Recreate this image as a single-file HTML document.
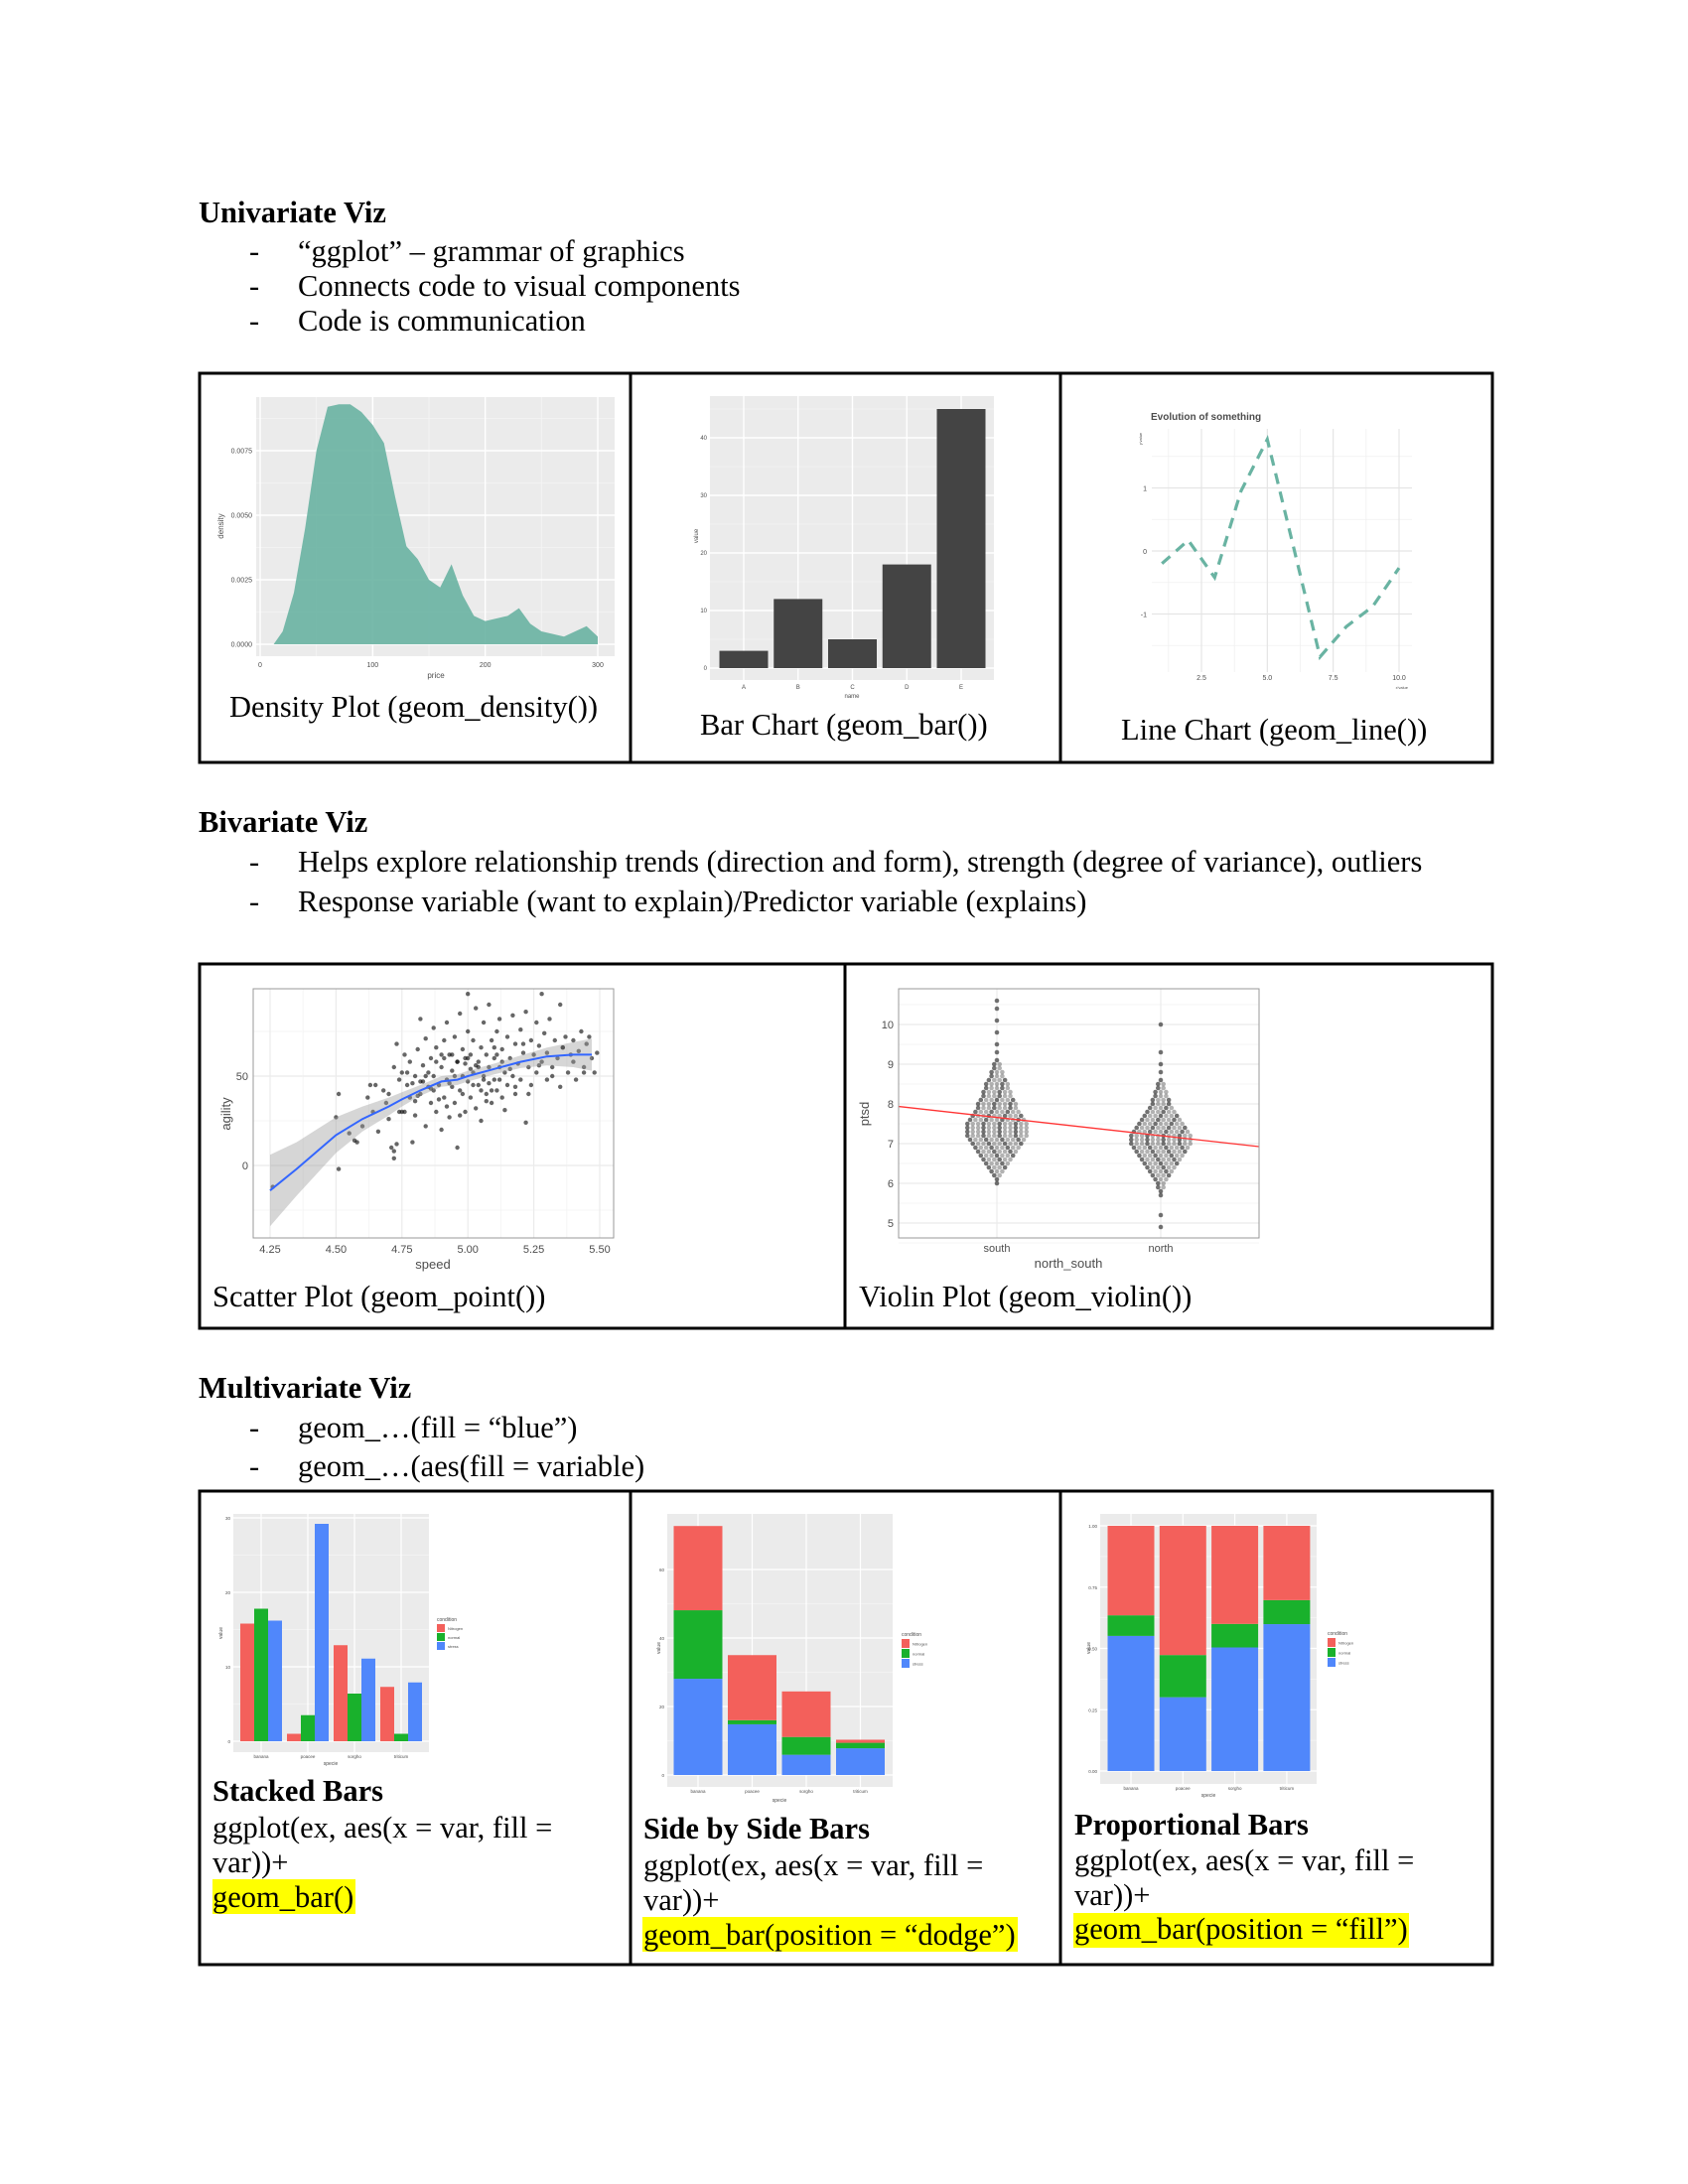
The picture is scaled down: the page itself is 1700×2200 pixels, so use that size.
<!DOCTYPE html>
<html><head><meta charset="utf-8"><title>ggplot notes</title>
<style>
html,body{margin:0;padding:0;background:#fff;}
svg{display:block;}
.t{font-family:"Liberation Serif","Times New Roman",serif;font-size:30.5px;fill:#000;}
.b{font-weight:bold;}
.s{font-family:"Liberation Sans",Arial,sans-serif;fill:#4d4d4d;}
</style></head>
<body>
<svg id="page" xmlns="http://www.w3.org/2000/svg" width="1700" height="2200" viewBox="0 0 1700 2200">
<rect x="0" y="0" width="1700" height="2200" fill="#fff"/>
<!-- Univariate -->
<text class="t b" x="200" y="224">Univariate Viz</text>
<text class="t" x="251" y="263">-</text>
<text class="t" x="300" y="263">“ggplot” – grammar of graphics</text>
<text class="t" x="251" y="298">-</text>
<text class="t" x="300" y="298">Connects code to visual components</text>
<text class="t" x="251" y="333">-</text>
<text class="t" x="300" y="333">Code is communication</text>
<g fill="none" stroke="#000" stroke-width="3">
<rect x="201" y="376" width="1302" height="392"/>
<line x1="635" y1="376" x2="635" y2="768"/>
<line x1="1068" y1="376" x2="1068" y2="768"/>
</g>
<text class="t" x="231" y="722">Density Plot (geom_density())</text>
<text class="t" x="705" y="740">Bar Chart (geom_bar())</text>
<text class="t" x="1129" y="745">Line Chart (geom_line())</text>
<!-- Bivariate -->
<text class="t b" x="200" y="838">Bivariate Viz</text>
<text class="t" x="251" y="878">-</text>
<text class="t" x="300" y="878">Helps explore relationship trends (direction and form), strength (degree of variance), outliers</text>
<text class="t" x="251" y="918">-</text>
<text class="t" x="300" y="918">Response variable (want to explain)/Predictor variable (explains)</text>
<g fill="none" stroke="#000" stroke-width="3">
<rect x="201" y="971" width="1302" height="367"/>
<line x1="851" y1="971" x2="851" y2="1338"/>
</g>
<text class="t" x="214" y="1316">Scatter Plot (geom_point())</text>
<text class="t" x="865" y="1316">Violin Plot (geom_violin())</text>
<!-- Multivariate -->
<text class="t b" x="200" y="1408">Multivariate Viz</text>
<text class="t" x="251" y="1448">-</text>
<text class="t" x="300" y="1448">geom_…(fill = “blue”)</text>
<text class="t" x="251" y="1487">-</text>
<text class="t" x="300" y="1487">geom_…(aes(fill = variable)</text>
<g fill="none" stroke="#000" stroke-width="3">
<rect x="201" y="1502" width="1302" height="477"/>
<line x1="635" y1="1502" x2="635" y2="1979"/>
<line x1="1068" y1="1502" x2="1068" y2="1979"/>
</g>
<rect x="214" y="1893" width="144" height="35" fill="#ffff00"/>
<rect x="647" y="1931" width="378" height="35" fill="#ffff00"/>
<rect x="1081" y="1927" width="338" height="35" fill="#ffff00"/>
<text class="t b" x="214" y="1814">Stacked Bars</text>
<text class="t" x="214" y="1851">ggplot(ex, aes(x = var, fill =</text>
<text class="t" x="214" y="1886">var))+</text>
<text class="t" x="214" y="1921">geom_bar()</text>
<text class="t b" x="648" y="1852">Side by Side Bars</text>
<text class="t" x="648" y="1889">ggplot(ex, aes(x = var, fill =</text>
<text class="t" x="648" y="1924">var))+</text>
<text class="t" x="648" y="1959">geom_bar(position = “dodge”)</text>
<text class="t b" x="1082" y="1848">Proportional Bars</text>
<text class="t" x="1082" y="1884">ggplot(ex, aes(x = var, fill =</text>
<text class="t" x="1082" y="1919">var))+</text>
<text class="t" x="1082" y="1953">geom_bar(position = “fill”)</text>
<g id="charts"></g>
</svg>
<script>
// ---------- DATA ----------
const densityPrice = [12,20,30,40,50,60,70,80,90,100,110,120,130,140,150,160,170,180,190,200,210,220,230,240,250,260,270,280,290,300];
const densityValue = [0,0.0005,0.002,0.0045,0.0075,0.0092,0.0093,0.0093,0.009,0.0085,0.0078,0.0057,0.0038,0.0033,0.0025,0.0022,0.0031,0.0019,0.0011,0.0009,0.001,0.0011,0.0014,0.0008,0.0005,0.0004,0.0003,0.0005,0.0007,0.0003];
const densityXTicks = [0,100,200,300];
const densityYTicks = [0,0.0025,0.005,0.0075];
const densityYLabels = ["0.0000","0.0025","0.0050","0.0075"];

const barNames = ["A","B","C","D","E"];
const barValues = [3,12,5,18,45];
const barYTicks = [0,10,20,30,40];

const lineX = [1,2,3,4,5,6,7,8,9,10];
const lineY = [-0.2,0.17,-0.42,0.95,1.77,0.05,-1.68,-1.2,-0.88,-0.27];
const lineXTicks = [2.5,5,7.5,10];
const lineXLabels = ["2.5","5.0","7.5","10.0"];
const lineYTicks = [-1,0,1];

const scatterSpeed = [4.51,4.51,4.50,4.55,4.57,4.58,4.60,4.62,4.63,4.64,4.65,4.66,4.68,4.69,4.70,4.71,4.72,4.72,4.73,4.72,4.73,4.74,4.75,4.75,4.76,4.77,4.78,4.78,4.79,4.80,4.80,4.81,4.82,4.82,4.83,4.84,4.84,4.85,4.86,4.86,4.87,4.87,4.88,4.88,4.89,4.90,4.90,4.91,4.91,4.92,4.92,4.93,4.93,4.94,4.94,4.95,4.95,4.96,4.96,4.97,4.97,4.98,4.98,4.99,4.99,5.00,5.00,5.00,5.01,5.01,5.02,5.02,5.03,5.03,5.04,5.04,5.05,5.05,5.06,5.06,5.07,5.07,5.08,5.08,5.09,5.09,5.10,5.10,5.11,5.11,5.12,5.12,5.13,5.13,5.14,5.15,5.15,5.16,5.17,5.17,5.18,5.18,5.19,5.20,5.20,5.21,5.22,5.22,5.23,5.24,5.24,5.25,5.26,5.26,5.27,5.28,5.28,5.29,5.30,5.30,5.31,5.32,5.33,5.34,5.35,5.35,5.36,5.37,5.38,5.39,5.40,5.41,5.42,5.43,5.44,5.45,5.46,5.47,5.48,5.49,4.88,4.93,4.98,5.03,5.08,5.13,4.85,4.90,4.95,5.00,5.05,5.10,4.80,4.77,4.83,5.16,5.21,4.26,4.92,4.97,5.02,5.07,5.12,4.87,4.82,4.76,5.18,5.23,5.27,5.32,4.94,4.99,5.04,5.09,5.14,4.89,4.84,4.79,4.74,4.70,5.36,5.40,5.44,4.96,5.01,5.06,5.11,4.91,4.86,4.81];
const scatterAgility = [-2,40,27,18,14,13,22,38,45,30,45,19,42,35,40,10,8,4,12,55,68,48,30,52,62,45,38,58,13,50,28,65,40,82,56,22,71,44,35,60,50,77,30,66,45,55,20,70,38,48,80,27,62,44,53,35,72,58,10,42,85,50,65,30,57,47,96,75,38,62,52,70,32,88,45,58,66,25,50,80,40,62,55,90,35,70,48,60,75,42,55,82,65,38,52,72,45,60,84,50,68,40,57,76,48,63,86,24,55,70,45,62,80,52,67,96,58,74,48,63,82,55,70,60,90,44,66,72,52,62,70,48,64,75,55,68,72,60,52,63,58,46,40,56,46,58,52,62,50,60,42,66,36,52,47,54,68,-12,33,28,45,36,48,42,47,30,44,40,56,50,62,60,55,42,31,37,50,46,30,26,66,58,52,58,54,48,62,60,43,39,50];
const smoothSpeed = [4.25,4.35,4.5,4.6,4.7,4.75,4.82,4.9,4.96,5.0,5.1,5.2,5.3,5.4,5.47];
const smoothFit = [-14,-2,17,26,33,37,42,47,48,50,54,58,61,62,62];
const smoothSE = [20,15,10,7,5,4,3,3,3,3,3,3.5,5,7,9];
const scatterXTicks = [4.25,4.5,4.75,5,5.25,5.5];
const scatterXLabels = ["4.25","4.50","4.75","5.00","5.25","5.50"];
const scatterYTicks = [0,50];

const violinGroups = ["south","north"];
const southStart = 6.0;
const southCounts = [1,1,2,3,4,5,6,7,8,9,10,11,12,12,12,12,11,10,9,8,8,7,6,6,5,5,4,3,3,2,2,1,0,1,0,1,0,0,1,0,0,1,0,0,1,0,1];
const northStart = 4.9;
const northCounts = [1,0,0,1,0,0,0,0,1,1,2,2,3,4,5,6,7,8,9,10,11,12,12,12,11,10,9,8,7,6,5,4,4,3,3,2,2,1,0,1,0,1,0,0,1,0,0,0,0,0,0,1];
const ptsdFitGroupPos = [1,2];
const ptsdFit = [7.66,7.2];
const violinYTicks = [5,6,7,8,9,10];

const species = ["banana","poacee","sorgho","triticum"];
const conditions = ["Nitrogen","normal","stress"];
const condColors = ["#F3605B","#19B12C","#5087FB"];
const groupNitrogen = [15.8,1,12.9,7.3];
const groupNormal = [17.8,3.5,6.4,1];
const groupStress = [16.2,29.2,11.1,7.9];
const groupYTicks = [0,10,20,30];
const stackNitrogen = [24.6,19,13.3,0.9];
const stackNormal = [20,1.2,5.2,1.6];
const stackStress = [28.1,14.8,5.9,7.8];
const stackYTicks = [0,20,40,60];
const fillNitrogen = [0.365,0.527,0.4,0.303];
const fillNormal = [0.084,0.172,0.096,0.098];
const fillStress = [0.551,0.301,0.504,0.599];
const fillYTicks = [0,0.25,0.5,0.75,1];
const fillYLabels = ["0.00","0.25","0.50","0.75","1.00"];

// ---------- HELPERS ----------
const NS = "http://www.w3.org/2000/svg";
const root = document.getElementById("charts");
function mk(tag, attrs, parent){
  const e = document.createElementNS(NS, tag);
  for (const k in attrs) e.setAttribute(k, attrs[k]);
  (parent || root).appendChild(e);
  return e;
}
function lin(d0,d1,r0,r1){ return v => r0 + (v-d0)/(d1-d0)*(r1-r0); }
function label(parent, x, y, txt, size, anchor, rot, color){
  const t = mk("text", {x:x, y:y, "font-size":size, "text-anchor":anchor||"middle", "class":"s"}, parent);
  if (rot) t.setAttribute("transform", "rotate(-90 "+x+" "+y+")");
  if (color) t.setAttribute("fill", color);
  t.textContent = txt;
  return t;
}
function grid(parent, x1,y1,x2,y2,color,w){
  return mk("line",{x1:x1,y1:y1,x2:x2,y2:y2,stroke:color,"stroke-width":w},parent);
}

// ---------- DENSITY ----------
(function(){
  const g = mk("g",{});
  
  
  const L=258,R=619,T=400,B=661;
  const x = lin(0,300,262,602), y = lin(0,0.0025,649,584);
  const p = mk("rect",{x:L,y:T,width:R-L,height:B-T,fill:"#EBEBEB"},g);
  
  
  for (let i=0;i<densityXTicks.length-1;i++){ const m=(densityXTicks[i]+densityXTicks[i+1])/2; grid(g,x(m),T,x(m),B,"#F5F5F5",0.8); }
  for (let i=0;i<densityYTicks.length;i++){ const m=densityYTicks[i]+0.00125; grid(g,L,y(m),R,y(m),"#F5F5F5",0.8); }
  densityXTicks.forEach(v=>{ grid(g,x(v),T,x(v),B,"#fff",1.4); label(g,x(v),672,String(v),7,"middle"); });
  densityYTicks.forEach((v,i)=>{ grid(g,L,y(v),R,y(v),"#fff",1.4); label(g,L-4,y(v)+2.5,densityYLabels[i],7,"end"); });
  let d = "M"+x(densityPrice[0])+","+y(0);
  densityPrice.forEach((v,i)=>{ d += " L"+x(v).toFixed(1)+","+y(densityValue[i]).toFixed(1); });
  d += " L"+x(densityPrice[densityPrice.length-1])+","+y(0)+" Z";
  const a = mk("path",{d:d,fill:"#69b3a2","fill-opacity":0.9,stroke:"none","stroke-linejoin":"round"},g);
  
  
  label(g,439,683,"price",8,"middle",false,"#222");
  label(g,225,530,"density",8,"middle",true,"#222");
})();

// ---------- BAR ----------
(function(){
  const g = mk("g",{});
  
  
  const L=715,R=1001,T=399,B=685;
  const y = lin(0,40,673,441);
  const xc = i => 749 + i*54.75;
  mk("rect",{x:L,y:T,width:R-L,height:B-T,fill:"#EBEBEB"},g);
  barYTicks.forEach(v=>{ grid(g,L,y(v+5),R,y(v+5),"#F5F5F5",0.8); grid(g,L,y(v),R,y(v),"#fff",1.4); label(g,L-3,y(v)+2,String(v),6,"end"); });
  barNames.forEach((n,i)=>{ grid(g,xc(i),T,xc(i),B,"#fff",1.4); label(g,xc(i),694,n,6,"middle"); });
  barValues.forEach((v,i)=>{
    const r = mk("rect",{x:xc(i)-24.5,y:y(v),width:49,height:y(0)-y(v),fill:"#444444"},g);
    
    
  });
  label(g,858,703,"name",6,"middle",false,"#222");
  label(g,703,540,"value",6,"middle",true,"#222");
})();

// ---------- LINE ----------
(function(){
  const g = mk("g",{});
  
  
  const L=1160,R=1422,T=432,B=677;
  const x = lin(1,10,1170.2,1409), y = lin(0,1,555,491.5);
  [-1.5,-0.5,0.5,1.5].forEach(v=>grid(g,L,y(v),R,y(v),"#F0F0F0",0.8));
  [1.25,3.75,6.25,8.75].forEach(v=>grid(g,x(v),T,x(v),B,"#F0F0F0",0.8));
  lineYTicks.forEach(v=>{ grid(g,L,y(v),R,y(v),"#E5E5E5",1.2); label(g,1155,y(v)+3,String(v),7,"end"); });
  lineXTicks.forEach((v,i)=>{ grid(g,x(v),T,x(v),B,"#E5E5E5",1.2); label(g,x(v),685,lineXLabels[i],7,"middle"); });
  const pts = lineX.map((v,i)=>x(v).toFixed(1)+","+y(lineY[i]).toFixed(1)).join(" ");
  const pl = mk("polyline",{points:pts,fill:"none",stroke:"#69b3a2","stroke-width":3.2,"stroke-dasharray":"11,8"},g);
  
  
  const t = mk("text",{x:1159,y:423,"font-size":10,"font-weight":"bold","class":"s",fill:"#222"},g);
  
  
  t.textContent = "Evolution of something";
  label(g,1418,694,"x'value",4,"end",false,"#444");
  label(g,1150,442,"y'value",4,"middle",true,"#444");
})();

// ---------- SCATTER ----------
(function(){
  const g = mk("g",{});
  
  
  const L=255,R=618,T=996,B=1247;
  const x = lin(4.25,5.5,272,604), y = lin(0,50,1174,1084);
  mk("rect",{x:L,y:T,width:R-L,height:B-T,fill:"#fff"},g);
  [-25,25,75].forEach(v=>grid(g,L,y(v),R,y(v),"#F3F3F3",0.8));
  [4.375,4.625,4.875,5.125,5.375].forEach(v=>grid(g,x(v),T,x(v),B,"#F3F3F3",0.8));
  scatterYTicks.forEach(v=>{ grid(g,L,y(v),R,y(v),"#EBEBEB",1.2); label(g,L-5,y(v)+4,String(v),11,"end"); });
  scatterXTicks.forEach((v,i)=>{ grid(g,x(v),T,x(v),B,"#EBEBEB",1.2); label(g,x(v),1262,scatterXLabels[i],11,"middle"); });
  scatterSpeed.forEach((v,i)=>{
    const c = mk("circle",{cx:x(v).toFixed(1),cy:y(scatterAgility[i]).toFixed(1),r:2.2,fill:"#000","fill-opacity":0.6},g);
    
    
  });
  let up="", dn="";
  smoothSpeed.forEach((v,i)=>{ up += (i?" L":"M")+x(v).toFixed(1)+","+y(smoothFit[i]+smoothSE[i]).toFixed(1); });
  for (let i=smoothSpeed.length-1;i>=0;i--) dn += " L"+x(smoothSpeed[i]).toFixed(1)+","+y(smoothFit[i]-smoothSE[i]).toFixed(1);
  const band = mk("path",{d:up+dn+" Z",fill:"#999","fill-opacity":0.4},g);
  
  
  const sm = mk("polyline",{points:smoothSpeed.map((v,i)=>x(v).toFixed(1)+","+y(smoothFit[i]).toFixed(1)).join(" "),fill:"none",stroke:"#3366FF","stroke-width":2},g);
  
  
  mk("rect",{x:L,y:T,width:R-L,height:B-T,fill:"none",stroke:"#999","stroke-width":1},g);
  label(g,436,1278,"speed",13,"middle",false,"#111");
  label(g,232,1122,"agility",13,"middle",true,"#111");
})();

// ---------- VIOLIN / BEESWARM ----------
(function(){
  const g = mk("g",{});
  
  
  const L=905,R=1268,T=996,B=1247;
  const y = lin(10,5,1032,1232);
  const x = lin(1,2,1004,1169);
  mk("rect",{x:L,y:T,width:R-L,height:B-T,fill:"#fff"},g);
  for (let v=4.5; v<=10.5; v+=1) grid(g,L,y(v),R,y(v),"#F3F3F3",0.8);
  violinYTicks.forEach(v=>{ grid(g,L,y(v),R,y(v),"#EBEBEB",1.2); label(g,L-5,y(v)+4,String(v),11,"end"); });
  violinGroups.forEach((n,i)=>{ grid(g,x(i+1),T,x(i+1),B,"#EBEBEB",1.2); label(g,x(i+1),1261,n,11,"middle"); });
  function swarm(start, counts, pos){
    counts.forEach((c,k)=>{
      const v = start + k*0.1;
      for (let j=0;j<c;j++){
        const off = (j - (c-1)/2) * 5.4;
        const dot = mk("circle",{cx:(x(pos)+off).toFixed(1),cy:y(v).toFixed(1),r:2.3,fill:"#000","fill-opacity":(j%3===0?0.55:0.3)},g);
        
        
      }
    });
  }
  swarm(southStart, southCounts, 1);
  swarm(northStart, northCounts, 2);
  const slope = (ptsdFit[1]-ptsdFit[0])/(ptsdFitGroupPos[1]-ptsdFitGroupPos[0]);
  const pL = 1 + (L-x(1))/(x(2)-x(1)), pR = 1 + (R-x(1))/(x(2)-x(1));
  const fit = p => ptsdFit[0] + (p-ptsdFitGroupPos[0])*slope;
  const ln = mk("line",{x1:L,y1:y(fit(pL)),x2:R,y2:y(fit(pR)),stroke:"#FF3333","stroke-width":1.3},g);
  
  
  mk("rect",{x:L,y:T,width:R-L,height:B-T,fill:"none",stroke:"#999","stroke-width":1},g);
  label(g,1076,1277,"north_south",13,"middle",false,"#111");
  label(g,875,1122,"ptsd",13,"middle",true,"#111");
})();

// ---------- MULTIVARIATE HELPERS ----------
function legend(g, lx, ty, step){
  label(g,lx,ty,"condition",5,"start",false,"#333");
  conditions.forEach((c,i)=>{
    const r = mk("rect",{x:lx,y:ty+3+i*step,width:8,height:step-1,fill:condColors[i]},g);
    
    
    label(g,lx+11,ty+3+i*step+step*0.65,c,4,"start",false,"#333");
  });
}
function panelGrid(g,L,R,T,B,y,ticks,labels,xc){
  mk("rect",{x:L,y:T,width:R-L,height:B-T,fill:"#EBEBEB"},g);
  for (let i=0;i<ticks.length-1;i++){ const m=(ticks[i]+ticks[i+1])/2; grid(g,L,y(m),R,y(m),"#F5F5F5",0.7); }
  ticks.forEach((v,i)=>{ grid(g,L,y(v),R,y(v),"#fff",1.2); label(g,L-3,y(v)+2,labels[i],4.5,"end"); });
  species.forEach((s,i)=>{ grid(g,xc(i),T,xc(i),B,"#fff",1.2); label(g,xc(i),B+6,s,4.5,"middle"); });
}

// ---------- GROUPED BARS ----------
(function(){
  const g = mk("g",{});
  
  
  const L=235,R=432,T=1525,B=1765;
  const y = lin(0,30,1754,1529);
  const xc = i => 263 + i*47;
  panelGrid(g,L,R,T,B,y,groupYTicks,groupYTicks.map(String),xc);
  const series = [groupNitrogen, groupNormal, groupStress];
  series.forEach((s,k)=>{
    s.forEach((v,i)=>{
      const r = mk("rect",{x:xc(i)-21+k*14,y:y(v),width:14,height:y(0)-y(v),fill:condColors[k]},g);
      
      
    });
  });
  label(g,333,1778,"specie",5,"middle",false,"#222");
  label(g,224,1645,"value",5,"middle",true,"#222");
  legend(g,440,1633,9);
})();

// ---------- STACKED BARS ----------
(function(){
  const g = mk("g",{});
  
  
  const L=672,R=899,T=1525,B=1800;
  const y = lin(0,60,1788,1581);
  const xc = i => 703 + i*54.5;
  panelGrid(g,L,R,T,B,y,stackYTicks,stackYTicks.map(String),xc);
  const order = [stackStress, stackNormal, stackNitrogen];
  const colIdx = [2,1,0];
  species.forEach((s,i)=>{
    let base = 0;
    order.forEach((ser,k)=>{
      const v = ser[i];
      const r = mk("rect",{x:xc(i)-24.5,y:y(base+v),width:49,height:y(base)-y(base+v),fill:condColors[colIdx[k]]},g);
      
      
      base += v;
    });
  });
  label(g,785,1815,"specie",5,"middle",false,"#222");
  label(g,665,1660,"value",5,"middle",true,"#222");
  legend(g,908,1648,10);
})();

// ---------- FILL BARS ----------
(function(){
  const g = mk("g",{});
  
  
  const L=1108,R=1326,T=1525,B=1797;
  const y = lin(0,1,1784,1537);
  const xc = i => 1139 + i*52.3;
  panelGrid(g,L,R,T,B,y,fillYTicks,fillYLabels,xc);
  const order = [fillStress, fillNormal, fillNitrogen];
  const colIdx = [2,1,0];
  species.forEach((s,i)=>{
    const tot = fillStress[i]+fillNormal[i]+fillNitrogen[i];
    let base = 0;
    order.forEach((ser,k)=>{
      const v = ser[i]/tot;
      const r = mk("rect",{x:xc(i)-23.5,y:y(base+v),width:47,height:y(base)-y(base+v),fill:condColors[colIdx[k]]},g);
      
      
      base += v;
    });
  });
  label(g,1217,1810,"specie",5,"middle",false,"#222");
  label(g,1098,1660,"value",5,"middle",true,"#222");
  legend(g,1337,1647,10);
})();
</script>
</body></html>
